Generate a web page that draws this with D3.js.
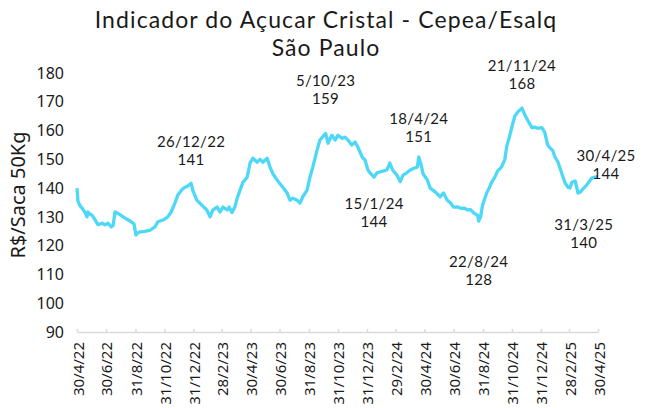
<!DOCTYPE html>
<html><head><meta charset="utf-8">
<script src="https://cdn.jsdelivr.net/npm/d3@7"></script>
<style>body{margin:0;background:#fff}svg{display:block}</style>
</head><body>
<script>
const titleLines = ["Indicador do Açucar Cristal - Cepea/Esalq", "São Paulo"];
const yTitle = "R$/Saca 50Kg";
const dates = ["2022-04-30","2022-05-02","2022-05-06","2022-05-11","2022-05-17","2022-05-21","2022-05-23","2022-05-27","2022-06-01","2022-06-07","2022-06-13","2022-06-22","2022-06-28","2022-07-04","2022-07-11","2022-07-15","2022-07-19","2022-07-25","2022-08-01","2022-08-05","2022-08-09","2022-08-15","2022-08-22","2022-08-28","2022-09-01","2022-09-05","2022-09-10","2022-09-20","2022-10-01","2022-10-11","2022-10-17","2022-10-28","2022-11-07","2022-11-14","2022-11-22","2022-11-28","2022-12-07","2022-12-13","2022-12-17","2022-12-26","2022-12-30","2023-01-07","2023-01-18","2023-01-28","2023-02-04","2023-02-10","2023-02-19","2023-02-25","2023-03-03","2023-03-12","2023-03-16","2023-03-22","2023-03-28","2023-04-02","2023-04-08","2023-04-14","2023-04-23","2023-04-29","2023-05-05","2023-05-14","2023-05-20","2023-05-26","2023-06-04","2023-06-10","2023-06-16","2023-06-25","2023-07-01","2023-07-07","2023-07-16","2023-07-22","2023-07-28","2023-08-06","2023-08-12","2023-08-18","2023-08-27","2023-09-02","2023-09-08","2023-09-17","2023-09-23","2023-09-27","2023-10-05","2023-10-10","2023-10-18","2023-10-25","2023-10-31","2023-11-08","2023-11-15","2023-11-21","2023-11-29","2023-12-06","2023-12-12","2023-12-21","2023-12-27","2024-01-02","2024-01-08","2024-01-15","2024-01-21","2024-01-27","2024-02-04","2024-02-11","2024-02-17","2024-02-23","2024-03-03","2024-03-10","2024-03-16","2024-03-25","2024-03-31","2024-04-09","2024-04-15","2024-04-18","2024-04-23","2024-04-27","2024-05-06","2024-05-12","2024-05-23","2024-06-02","2024-06-09","2024-06-17","2024-06-24","2024-06-30","2024-07-08","2024-07-15","2024-07-23","2024-07-30","2024-08-05","2024-08-12","2024-08-20","2024-08-22","2024-08-26","2024-08-30","2024-09-08","2024-09-14","2024-09-18","2024-09-25","2024-10-01","2024-10-09","2024-10-16","2024-10-20","2024-10-26","2024-11-01","2024-11-06","2024-11-12","2024-11-21","2024-11-27","2024-12-03","2024-12-12","2024-12-18","2024-12-24","2025-01-02","2025-01-08","2025-01-14","2025-01-19","2025-01-25","2025-01-29","2025-02-05","2025-02-13","2025-02-20","2025-02-26","2025-03-02","2025-03-06","2025-03-13","2025-03-19","2025-03-23","2025-03-31","2025-04-02","2025-04-09","2025-04-17","2025-04-24","2025-04-30"];
const prices = [140,135.5,134,133,131.5,130,131.7,131,130.5,129,127.3,127.8,127.2,127.8,126.5,127,131.7,131.2,130.5,130,129.6,129,128.3,127.5,123.7,124.5,124.8,125,125.4,126.5,128.3,128.9,130,131.7,134.8,137.6,139.5,140.3,140.5,141.7,139,135.8,134,132.4,130,132.4,133.4,131.7,133.4,132.4,133.4,131.5,133.4,136.5,139.3,142,143.8,148.7,150.4,149,150,149,150.4,147.3,145,142.8,141.5,140.3,138.3,135.8,136.5,135.8,134.8,137,139.3,143.8,147.3,153.2,156.7,157.5,159,155.6,158.4,156.7,158.4,157.3,157.7,156.7,155,156,154.2,150.8,149.7,146.3,145,143.8,145.3,145.6,146,146.3,148.7,146.3,144.5,142.3,144.5,145.5,146.3,147,147.3,150.8,148,145,142.8,140,138.6,137,138.3,135.8,134.8,133.4,133.5,133,133,132.4,132.5,131.3,130.5,128.5,130,134,138.4,140.3,142,143.8,146,147.3,150,154.5,158,162,165,166.4,167.8,165.5,163.6,161,161.2,160.8,161,159.4,155,154,153,151,149,145,141.7,140.3,140,142,142.5,138.3,138.5,140,140.3,141.7,143.5,143.8,144];
const yTicks = [90,100,110,120,130,140,150,160,170,180];
const xTickDates = ["2022-04-30","2022-06-30","2022-08-31","2022-10-31","2022-12-31","2023-02-28","2023-04-30","2023-06-30","2023-08-31","2023-10-31","2023-12-31","2024-02-29","2024-04-30","2024-06-30","2024-08-31","2024-10-31","2024-12-31","2025-02-28","2025-04-30"];
const annDates = ["2022-12-26","2023-10-05","2024-01-15","2024-04-18","2024-08-22","2024-11-21","2025-03-31","2025-04-30"];
const annLabels = ["26/12/22","5/10/23","15/1/24","18/4/24","22/8/24","21/11/24","31/3/25","30/4/25"];
const annValues = [141,159,144,151,128,168,140,144];

const W = 651, H = 408;
const parse = d3.timeParse("%Y-%m-%d");
const fmt = d => `${d.getDate()}/${d.getMonth()+1}/${String(d.getFullYear()).slice(2)}`;
const FONT = "'Noto Sans', sans-serif";
const FONT_L = "Lato, 'Noto Sans', sans-serif";
const INK = "#1a1a1a";

const svg = d3.select("body").append("svg").attr("width", W).attr("height", H)
  .style("font-family", FONT);

const x = d3.scaleTime().domain([parse(xTickDates[0]), parse(xTickDates[xTickDates.length-1])]).range([77, 598]);
const y = d3.scaleLinear().domain([90, 180]).range([332, 73]);

// title
svg.append("text").attr("x", 326).attr("y", 28).attr("text-anchor", "middle")
  .attr("font-size", 23).attr("letter-spacing", 1.1).attr("fill", INK)
  .style("font-family", FONT_L).text(titleLines[0]);
svg.append("text").attr("x", 326).attr("y", 56).attr("text-anchor", "middle")
  .attr("font-size", 23).attr("letter-spacing", 1.1).attr("fill", INK)
  .style("font-family", FONT_L).text(titleLines[1]);

// y axis labels
const ya = svg.append("g").attr("transform", "translate(64,0)")
  .call(d3.axisLeft(y).tickValues(yTicks).tickSize(0).tickPadding(0));
ya.select(".domain").remove();
ya.selectAll("text").attr("font-size", 16).attr("fill", INK).style("font-family", FONT);

svg.append("text").attr("transform", "translate(25,195) rotate(-90)")
  .attr("text-anchor", "middle").attr("font-size", 20).attr("fill", INK).text(yTitle);

// x axis
const xa = svg.append("g").attr("transform", "translate(0,332)")
  .call(d3.axisBottom(x).tickValues(xTickDates.map(parse)).tickFormat(fmt).tickSize(-3).tickPadding(0).tickSizeOuter(0));
xa.select(".domain").attr("stroke", "#d9d9d9").attr("stroke-width", 1.5);
xa.selectAll(".tick line").attr("stroke", "#d9d9d9").attr("stroke-width", 1.5);
xa.selectAll("text").attr("font-size", 15).attr("fill", INK).style("font-family", FONT)
  .attr("text-anchor", "end").attr("dy", null).attr("y", 0)
  .attr("transform", "translate(6,10) rotate(-90)");

// line
const data = dates.map((d, i) => ({date: parse(d), v: prices[i]}));
svg.append("path").datum(data)
  .attr("fill", "none").attr("stroke", "#4DD8F8").attr("stroke-width", 3.3)
  .attr("stroke-linejoin", "round")
  .attr("d", d3.line().x(d => x(d.date)).y(d => y(d.v)));

// annotations: vertical offsets (label, value) relative to the point
const annOffsets = [[-43, -25], [-52, -34], [27, 45], [-37, -19], [39, 57], [-42, -24], [37, 55], [-21, -3]];
const annDx = [0, 0, 0, 0, 0, 0, 0, 8];
annDates.forEach((d, i) => {
  const px = x(parse(d)) + annDx[i], py = y(annValues[i]);
  const o = annOffsets[i];
  svg.append("text").attr("x", px).attr("y", py + o[0] + 5).attr("text-anchor", "middle")
    .attr("font-size", 15).attr("letter-spacing", 0.3).attr("fill", INK)
    .style("font-family", FONT_L).text(annLabels[i]);
  svg.append("text").attr("x", px).attr("y", py + o[1] + 5).attr("text-anchor", "middle")
    .attr("font-size", 15).attr("letter-spacing", 0.3).attr("fill", INK)
    .style("font-family", FONT_L).text(annValues[i]);
});
</script>
</body></html>
